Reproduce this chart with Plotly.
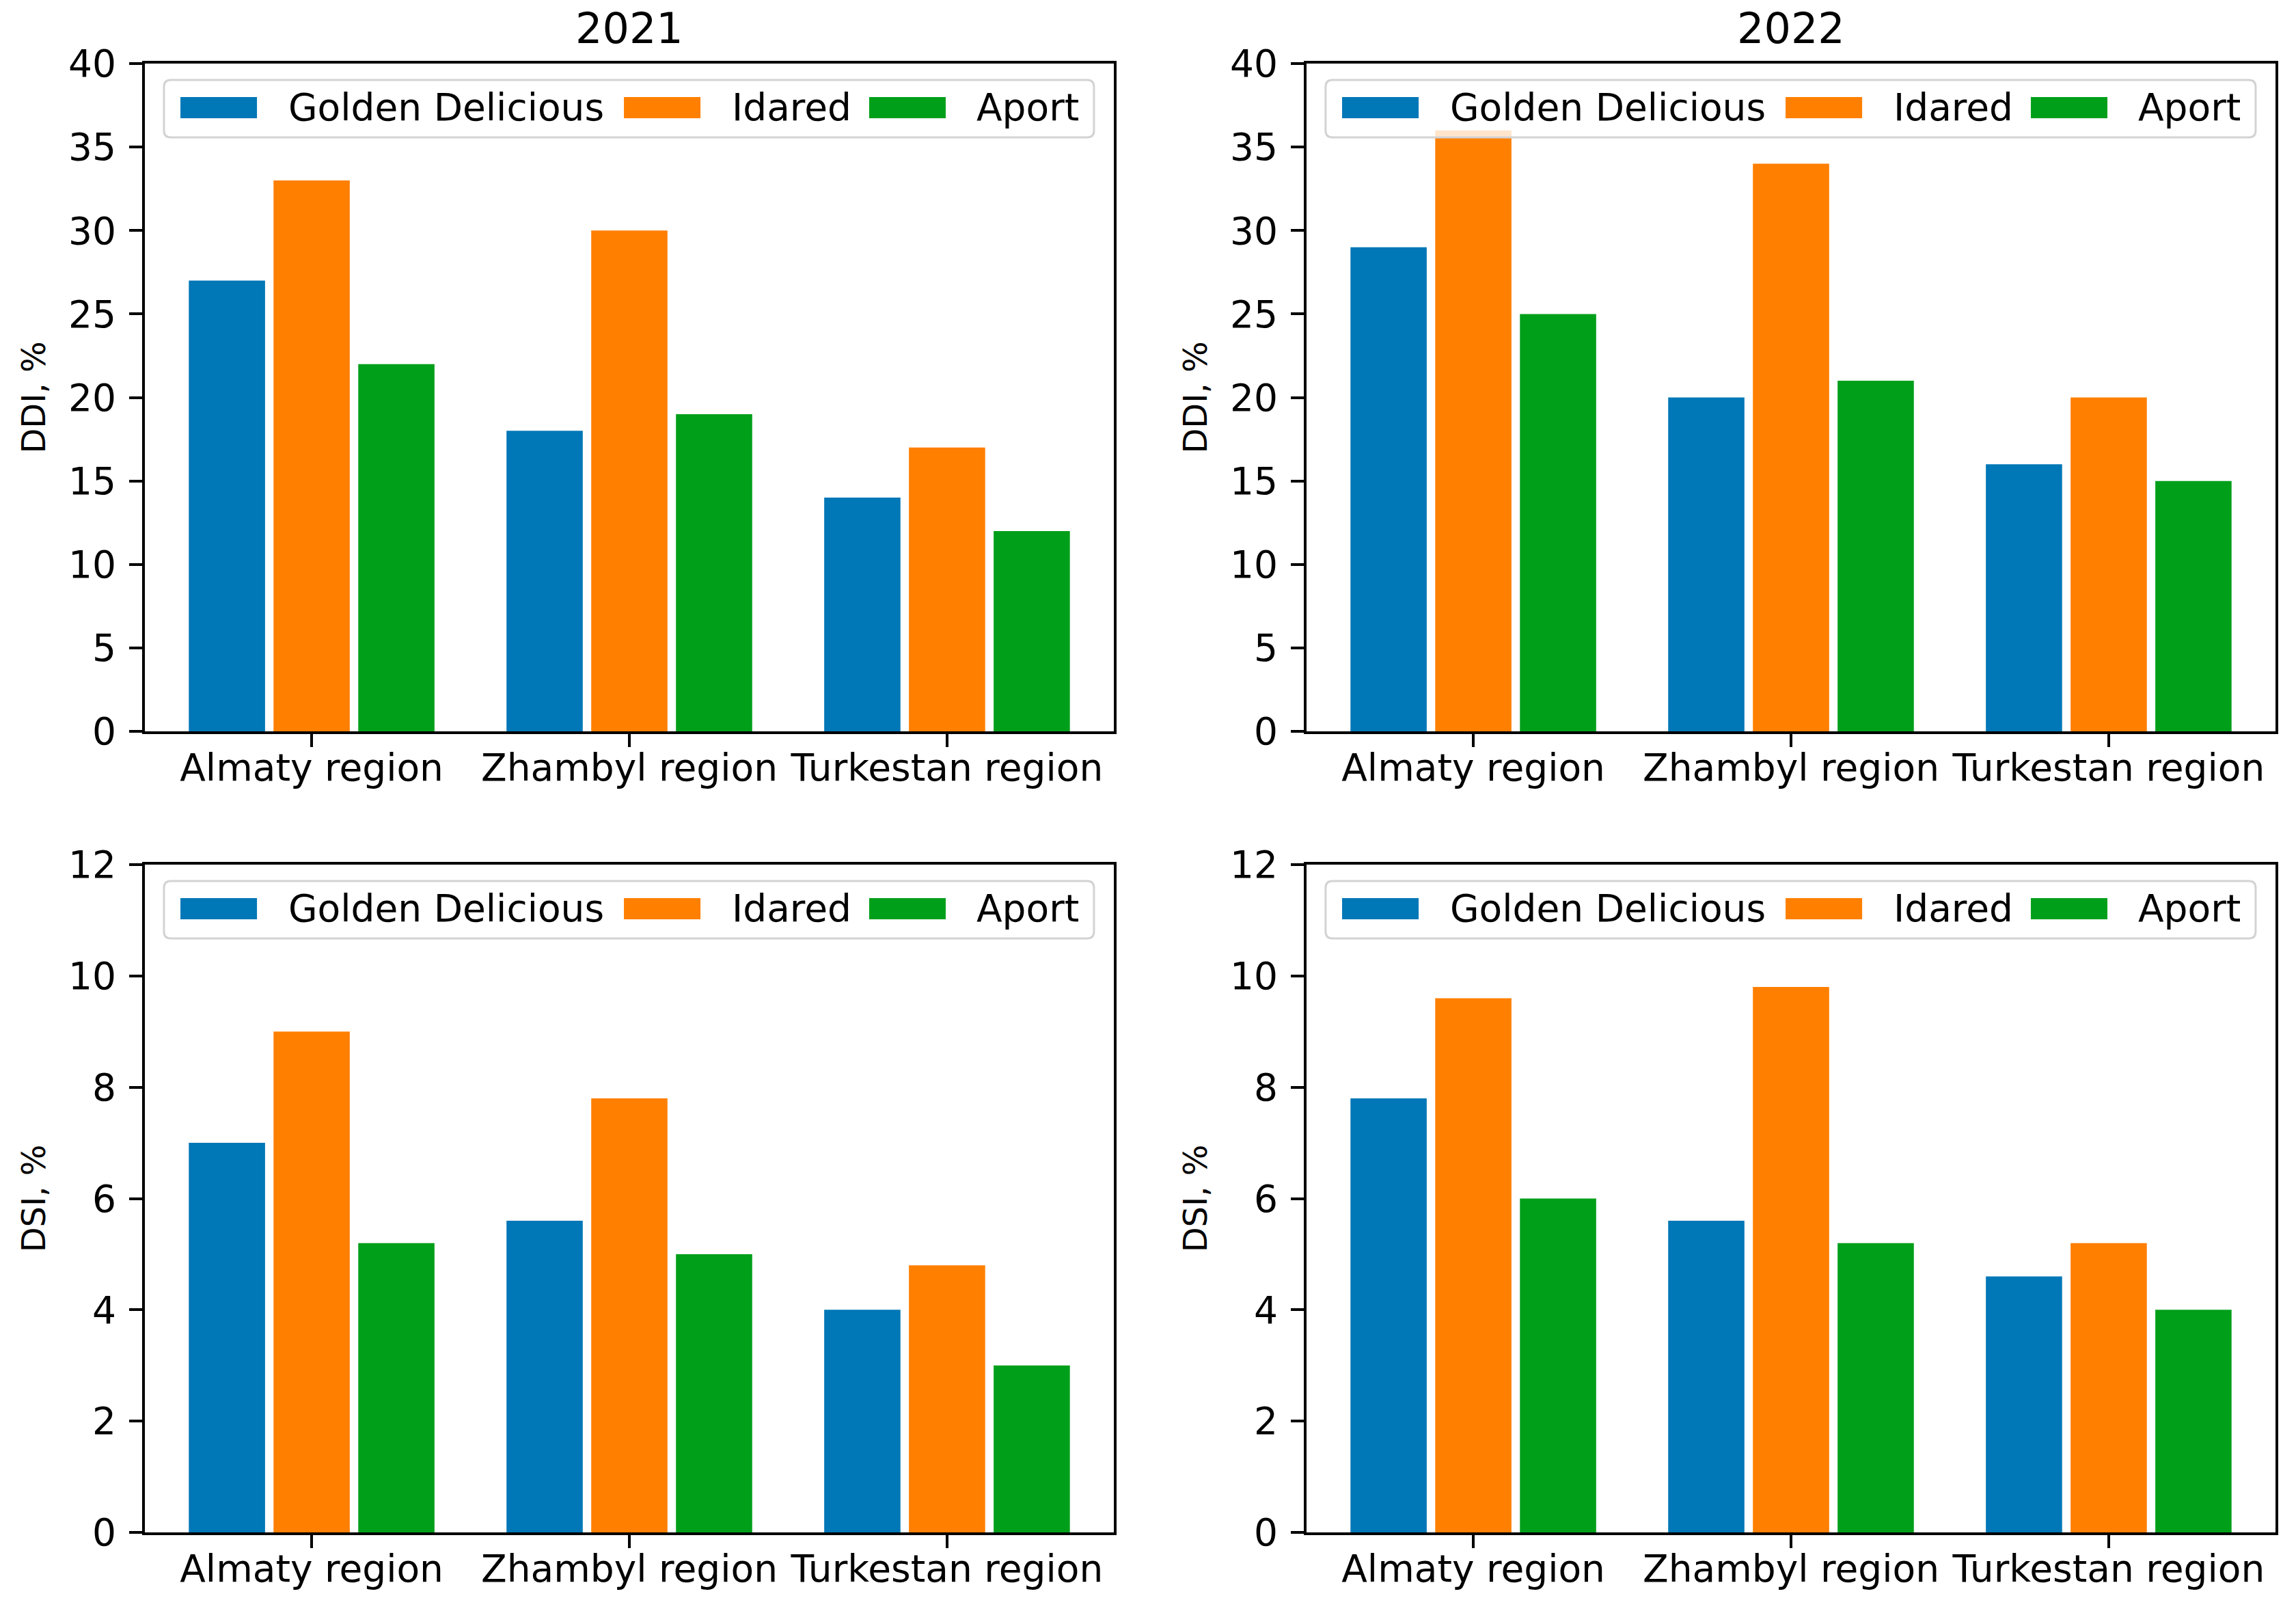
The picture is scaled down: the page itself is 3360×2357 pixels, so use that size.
import plotly.graph_objects as go

regions = ["Almaty region", "Zhambyl region", "Turkestan region"]
varieties = ["Golden Delicious", "Idared", "Aport"]
colors = ["#0077b7", "#ff7f00", "#009f1a"]

ddi_2021_golden = [27, 18, 14]
ddi_2021_idared = [33, 30, 17]
ddi_2021_aport = [22, 19, 12]

ddi_2022_golden = [29, 20, 16]
ddi_2022_idared = [36, 34, 20]
ddi_2022_aport = [25, 21, 15]

dsi_2021_golden = [7.0, 5.6, 4.0]
dsi_2021_idared = [9.0, 7.8, 4.8]
dsi_2021_aport = [5.2, 5.0, 3.0]

dsi_2022_golden = [7.8, 5.6, 4.6]
dsi_2022_idared = [9.6, 9.8, 5.2]
dsi_2022_aport = [6.0, 5.2, 4.0]

ddi_ticks = [0, 5, 10, 15, 20, 25, 30, 35, 40]
dsi_ticks = [0, 2, 4, 6, 8, 10, 12]
years = ["2021", "2022"]

panels = [
    ("", [ddi_2021_golden, ddi_2021_idared, ddi_2021_aport], "DDI, %", [0, 40], ddi_ticks, years[0]),
    ("2", [ddi_2022_golden, ddi_2022_idared, ddi_2022_aport], "DDI, %", [0, 40], ddi_ticks, years[1]),
    ("3", [dsi_2021_golden, dsi_2021_idared, dsi_2021_aport], "DSI, %", [0, 12], dsi_ticks, None),
    ("4", [dsi_2022_golden, dsi_2022_idared, dsi_2022_aport], "DSI, %", [0, 12], dsi_ticks, None),
]

W, H = 3360, 2357
x_domains = {"": (212, 1630), "2": (1912, 3330), "3": (212, 1630), "4": (1912, 3330)}
y_domains = {"": (93, 1070), "2": (93, 1070), "3": (1265, 2242), "4": (1265, 2242)}

FONT = "DejaVu Sans"
fig = go.Figure()
shapes = []
annotations = []

for suf, series, ytitle, yrange, ticks, title in panels:
    for name, vals, col in zip(varieties, series, colors):
        fig.add_trace(go.Bar(
            x=regions, y=vals, name=name, marker=dict(color=col, line=dict(width=0)),
            xaxis="x" + suf, yaxis="y" + suf, showlegend=False,
        ))
    xd = x_domains[suf]
    yd = y_domains[suf]
    common = dict(showline=True, linecolor="black", linewidth=4, mirror=True,
                  ticks="outside", ticklen=19, tickwidth=4, tickcolor="black",
                  showgrid=False, zeroline=False, automargin=False,
                  tickfont=dict(family=FONT, size=55, color="black"))
    fig.update_layout(**{
        "xaxis" + suf: dict(domain=[xd[0] / W, xd[1] / W], anchor="y" + suf,
                            range=[-0.525, 2.525], type="category",
                            ticklabelstandoff=-17, **common),
        "yaxis" + suf: dict(domain=[1 - yd[1] / H, 1 - yd[0] / H], anchor="x" + suf,
                            range=yrange, tickvals=ticks, ticklabelstandoff=8,
                            title=dict(text=ytitle, font=dict(family=FONT, size=48, color="black"),
                                       standoff=19),
                            **common),
    })
    xr = "x" + suf + " domain"
    yr = "y" + suf + " domain"
    if title:
        annotations.append(dict(text=title, xref=xr, yref=yr, x=0.5, y=1 + 51 / 977,
                                xanchor="center", yanchor="middle", showarrow=False,
                                font=dict(family=FONT, size=62, color="black")))
    x0, x1, y0, y1 = 0.0197, 0.9795, 0.8895, 0.9754
    rx, ry = 10 / 1418, 10 / 977
    path = (f"M{x0+rx},{y1} L{x1-rx},{y1} Q{x1},{y1} {x1},{y1-ry} L{x1},{y0+ry} "
            f"Q{x1},{y0} {x1-rx},{y0} L{x0+rx},{y0} Q{x0},{y0} {x0},{y0+ry} "
            f"L{x0},{y1-ry} Q{x0},{y1} {x0+rx},{y1} Z")
    shapes.append(dict(type="path", path=path, xref=xr, yref=yr,
                       fillcolor="rgba(255,255,255,0.8)", line=dict(color="#d3d3d3", width=3),
                       layer="above"))
    patch_x = [0.0367, 0.4944, 0.7475]
    text_x = [0.1467, 0.6044, 0.8568]
    for name, col, px, tx in zip(varieties, colors, patch_x, text_x):
        shapes.append(dict(type="rect", xref=xr, yref=yr, x0=px, x1=px + 0.079,
                           y0=0.9181, y1=0.9498, fillcolor=col, line=dict(width=0),
                           layer="above"))
        annotations.append(dict(text=name, xref=xr, yref=yr, x=tx, y=0.9345,
                                xanchor="left", yanchor="middle", showarrow=False,
                                font=dict(family=FONT, size=55, color="black")))

fig.update_layout(
    template="none",
    width=W, height=H,
    margin=dict(l=0, r=0, t=0, b=0, pad=0),
    paper_bgcolor="white", plot_bgcolor="white",
    font=dict(family=FONT, color="black"),
    barmode="group", bargap=0.2, bargroupgap=0.1,
    shapes=shapes, annotations=annotations,
    showlegend=False,
)

fig.write_html("out.html", config={"displayModeBar": False},
               post_script="document.body.style.margin='0';document.body.style.overflow='hidden';")
